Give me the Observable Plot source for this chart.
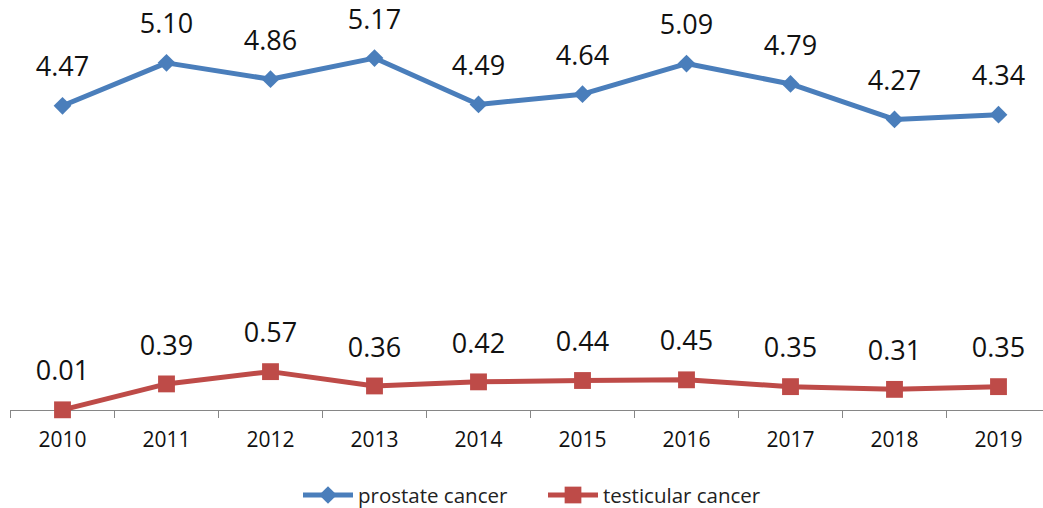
<!DOCTYPE html>
<html>
<head>
<meta charset="utf-8">
<script src="https://cdn.jsdelivr.net/npm/d3@7"></script>
<script src="https://cdn.jsdelivr.net/npm/@observablehq/plot@0.6"></script>
<style>
  html, body { margin: 0; padding: 0; background: #fff; }
  #legend { position: relative; height: 48px; font-family: "Open Sans", sans-serif; font-size: 20.5px; color: #222; }
  .item { display: flex; align-items: center; position: absolute; top: 22px; height: 26px; }
  .item svg { margin-right: 3px; }
</style>
</head>
<body>
<div id="chart"></div>
<div id="legend"></div>
<script>
const years = ["2010","2011","2012","2013","2014","2015","2016","2017","2018","2019"];
const prostate = [4.47, 5.10, 4.86, 5.17, 4.49, 4.64, 5.09, 4.79, 4.27, 4.34];
const testicular = [0.01, 0.39, 0.57, 0.36, 0.42, 0.44, 0.45, 0.35, 0.31, 0.35];
const seriesNames = ["prostate cancer", "testicular cancer"];
const colors = ["#4A7EBB", "#BE4B48"];

const data = [
  ...years.map((y, i) => ({year: y, value: prostate[i], series: seriesNames[0]})),
  ...years.map((y, i) => ({year: y, value: testicular[i], series: seriesNames[1]}))
];
const pData = data.filter(d => d.series === seriesNames[0]);
const tData = data.filter(d => d.series === seriesNames[1]);

const chart = Plot.plot({
  width: 1043,
  height: 460,
  marginLeft: 10,
  marginRight: 0,
  marginTop: 0,
  marginBottom: 50,
  style: {fontFamily: "Open Sans, sans-serif", background: "#fff", overflow: "hidden"},
  x: {type: "point", domain: years, range: [62, 998], padding: 0, label: null},
  y: {domain: [0, 6], range: [410, 1], axis: null, label: null},
  marks: [
    Plot.ruleY([0], {stroke: "#868686", strokeWidth: 1}),
    Plot.axisX({tickSize: 8, dx: -52, text: null, stroke: "#868686", strokeOpacity: 1, tickPadding: 0, label: null}),
    Plot.axisX({tickSize: 0, tickPadding: 22, fontSize: 21, fill: "#111", label: null}),
    Plot.lineY(pData, {x: "year", y: "value", stroke: colors[0], strokeWidth: 5}),
    Plot.dot(pData, {x: "year", y: "value", symbol: "diamond2", r: 8, fill: colors[0], stroke: "none"}),
    Plot.lineY(tData, {x: "year", y: "value", stroke: colors[1], strokeWidth: 5}),
    Plot.dot(tData, {x: "year", y: "value", symbol: "square", r: 9.5, fill: colors[1], stroke: "none"}),
    Plot.text(data, {x: "year", y: "value", text: d => d.value.toFixed(2), dy: -38, fontSize: 27, fill: "#111"})
  ]
});
document.getElementById("chart").appendChild(chart);

// Legend
const legend = d3.select("#legend");
const symbols = [d3.symbolDiamond2, d3.symbolSquare];
const sizes = [200, 280];
const offsets = [303, 548];
seriesNames.forEach((name, i) => {
  const item = legend.append("div").attr("class", "item").style("left", offsets[i] + "px");
  const svg = item.append("svg").attr("width", 52).attr("height", 20);
  svg.append("line").attr("x1", 0).attr("x2", 50).attr("y1", 10).attr("y2", 10).attr("stroke", colors[i]).attr("stroke-width", 5);
  svg.append("path").attr("d", d3.symbol(symbols[i], sizes[i])()).attr("transform", "translate(25,10)").attr("fill", colors[i]);
  item.append("span").text(name);
});
</script>
</body>
</html>
